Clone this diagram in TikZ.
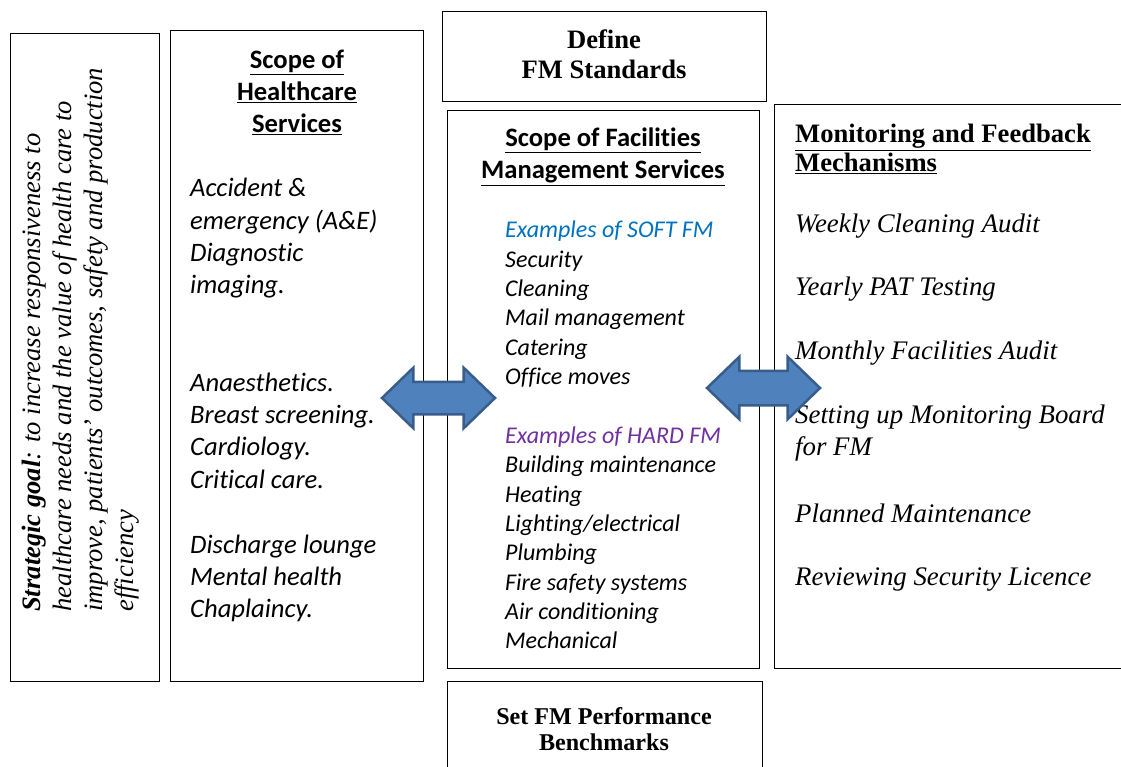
\documentclass[tikz,border=0pt]{standalone}
\usepackage{fontspec}
\setmainfont{Liberation Serif}
\newfontfamily\calibri[Ligatures=NoCommon]{Carlito}
\usetikzlibrary{shapes.arrows}

\definecolor{arrowfill}{HTML}{4F81BD}
\definecolor{arrowline}{HTML}{385D8A}
\definecolor{softblue}{HTML}{0070C0}
\definecolor{hardpurple}{HTML}{7030A0}

\tikzset{
  panel/.style={draw, line width=1.2pt, inner sep=0pt, anchor=north west},
  blockarrow/.style={double arrow, draw=arrowline, fill=arrowfill, line width=2.5pt,
    double arrow head extend=14pt, double arrow tip angle=88},
  ctitle/.style={font=\calibri\bfseries\fontsize{26.6}{32}\selectfont, align=center, inner sep=0pt},
  citems/.style={font=\calibri\itshape\fontsize{26.6}{32.4}\selectfont, align=left, inner sep=0pt, anchor=north west},
  fmitems/.style={font=\calibri\itshape\fontsize{24}{29.35}\selectfont, align=left, inner sep=0pt, anchor=north west},
}

\begin{document}
\begin{tikzpicture}[x=1pt,y=-1pt]
  \useasboundingbox (0,0) rectangle (1121,767);

  % panels
  \node[panel, minimum width=149pt, minimum height=648pt] (goal) at (10,33) {};
  \node[panel, minimum width=253pt, minimum height=651pt] (hc) at (170,30) {};
  \node[panel, minimum width=324pt, minimum height=90pt] (define) at (442,11) {};
  \node[panel, minimum width=312pt, minimum height=558pt] (fm) at (447,110) {};
  \node[panel, minimum width=360pt, minimum height=564pt] (mon) at (774,104) {};
  \node[panel, minimum width=315pt, minimum height=100pt] (bench) at (447,681) {};

  % strategic goal
  \node[rotate=90, anchor=north west, inner sep=0pt, align=left,
        font=\itshape\fontsize{26.6}{31}\selectfont] (goaltext) at (22,612)
    {\textbf{Strategic goal}: to increase responsiveness to\\
     healthcare needs and the value of health care to\\
     improve, patients’ outcomes, safety and production\\
     efficiency};

  % healthcare services
  \node[ctitle, anchor=north] (hctitle) at (297,50)
    {\underline{Scope of}\\ \underline{Healthcare}\\ \underline{Services}};
  \node[citems] (hclist) at (190,178)
    {Accident \&\\ emergency (A\&E)\\ Diagnostic\\ imaging.\\[64.8pt]
     Anaesthetics.\\ Breast screening.\\ Cardiology.\\ Critical care.\\[32.4pt]
     Discharge lounge\\ Mental health\\ Chaplaincy.};

  % standards and benchmarks
  \node[font=\bfseries\fontsize{26.6}{30}\selectfont, align=center, inner sep=0pt]
    (definetext) at (604,54) {Define\\ FM Standards};
  \node[font=\bfseries\fontsize{24.1}{26}\selectfont, align=center, inner sep=0pt]
    (benchtext) at (604,729) {Set FM Performance\\ Benchmarks};

  % facilities management services
  \node[ctitle, anchor=north] (fmtitle) at (603,128)
    {\underline{Scope of Facilities}\\ \underline{Management Services}};
  \node[fmitems] (fmlist) at (505,221)
    {\textcolor{softblue}{Examples of SOFT FM}\\ Security\\ Cleaning\\ Mail management\\
     Catering\\ Office moves\\[29.35pt]
     \textcolor{hardpurple}{Examples of HARD FM}\\ Building maintenance\\ Heating\\
     Lighting/electrical\\ Plumbing\\ Fire safety systems\\ Air conditioning\\ Mechanical};

  % monitoring and feedback
  \node[font=\bfseries\fontsize{26.6}{29}\selectfont, align=left, inner sep=0pt, anchor=north west]
    (montitle) at (795,124) {\underline{Monitoring and Feedback}\\ \underline{Mechanisms}};
  \node[font=\itshape\fontsize{26.8}{32}\selectfont, align=left, inner sep=0pt, anchor=north west]
    (monlist) at (795,214)
    {Weekly Cleaning Audit\\[31pt] Yearly PAT Testing\\[32pt] Monthly Facilities Audit\\[32pt]
     Setting up Monitoring Board\\ for FM\\[35pt] Planned Maintenance\\[31pt]
     Reviewing Security Licence};

  % two-way arrows
  \node[blockarrow, inner sep=15pt, minimum height=113pt] (hcarrow) at (438.5,398) {};
  \node[blockarrow, inner sep=16pt, minimum height=113pt] (monarrow) at (763.5,388) {};
\end{tikzpicture}
\end{document}
